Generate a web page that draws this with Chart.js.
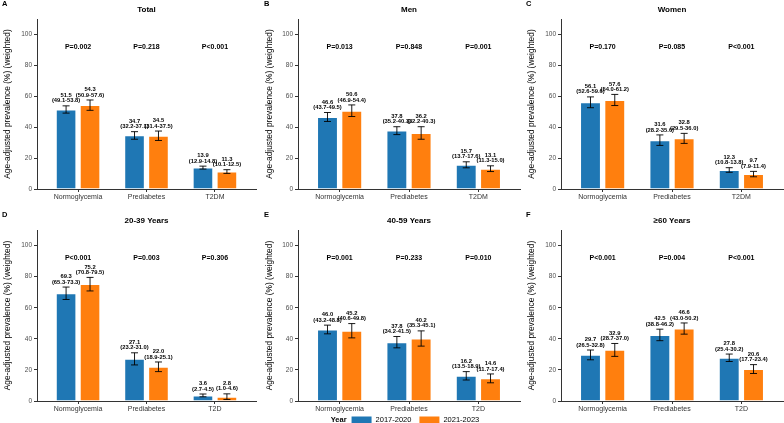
<!DOCTYPE html>
<html>
<head>
<meta charset="utf-8">
<script src="https://cdn.jsdelivr.net/npm/chart.js@4.4.0/dist/chart.umd.min.js"></script>
<style>
body { margin: 0; background: #fff; }
#wrap { position: relative; width: 784px; height: 423px; overflow: hidden; }
canvas { position: absolute; }
</style>
</head>
<body>
<div id="wrap"></div>
<script>
// 各面板的標題與類別
const panelLetters = ['A', 'B', 'C', 'D', 'E', 'F'];
const panelTitles = ['Total', 'Men', 'Women', '20-39 Years', '40-59 Years', '≥60 Years'];
const topCategories = ['Normoglycemia', 'Prediabetes', 'T2DM'];
const bottomCategories = ['Normoglycemia', 'Prediabetes', 'T2D'];
const yTicks = [0, 20, 40, 60, 80, 100];
const seriesNames = ['2017-2020', '2021-2023'];

// 2017-2020 的估計值與 95% CI
const est2017 = [[51.5, 34.7, 13.9], [46.6, 37.8, 15.7], [56.1, 31.6, 12.3], [69.3, 27.1, 3.6], [46.0, 37.8, 16.2], [29.7, 42.5, 27.8]];
const low2017 = [[49.1, 32.2, 12.9], [43.7, 35.2, 13.7], [52.6, 28.2, 10.8], [65.3, 23.2, 2.7], [43.2, 34.2, 13.5], [26.5, 38.8, 25.4]];
const high2017 = [[53.8, 37.1, 14.8], [49.5, 40.3, 17.6], [59.6, 35.0, 13.8], [73.3, 31.0, 4.5], [48.8, 41.5, 18.9], [32.8, 46.2, 30.2]];

// 2021-2023 的估計值與 95% CI
const est2021 = [[54.3, 34.5, 11.3], [50.6, 36.2, 13.1], [57.6, 32.8, 9.7], [75.2, 22.0, 2.8], [45.2, 40.2, 14.6], [32.9, 46.6, 20.6]];
const low2021 = [[50.9, 31.4, 10.1], [46.9, 32.2, 11.3], [54.0, 29.5, 7.9], [70.8, 18.9, 1.0], [40.6, 35.3, 11.7], [28.7, 43.0, 17.7]];
const high2021 = [[57.6, 37.5, 12.5], [54.4, 40.3, 15.0], [61.2, 36.0, 11.4], [79.5, 25.1, 4.6], [49.8, 45.1, 17.4], [37.0, 50.2, 23.4]];

const pValues = [
    ['P=0.002', 'P=0.218', 'P<0.001'],
    ['P=0.013', 'P=0.848', 'P=0.001'],
    ['P=0.170', 'P=0.085', 'P<0.001'],
    ['P<0.001', 'P=0.003', 'P=0.306'],
    ['P=0.001', 'P=0.233', 'P=0.010'],
    ['P<0.001', 'P=0.004', 'P<0.001'],
];

const colors = ['#1F77B4', '#FF7F0E'];
const FONT = '"Liberation Sans", Arial, Helvetica, sans-serif';

const cols = [
    { left: 0, width: 262, yw: 37, pr: 6 },
    { left: 262, width: 262, yw: 36, pr: 4 },
    { left: 524, width: 260, yw: 37, pr: 1 },
];
const rows = [
    { top: 0, height: 205, pt: 19, xh: 16, titleY: 10, letterY: 4 },
    { top: 205, height: 218, pt: 25, xh: 22, titleY: 16, letterY: 10 },
];

// 誤差線、數值標籤、P 值、標題
const annotate = {
    id: 'annotate',
    afterDatasetsDraw(chart, args, opts) {
        const ctx = chart.ctx;
        const ys = chart.scales.y, xs = chart.scales.x;
        const area = chart.chartArea;
        const p = opts.panel;
        ctx.save();
        [[low2017, high2017, est2017], [low2021, high2021, est2021]].forEach(([lo, hi, est], d) => {
            chart.getDatasetMeta(d).data.forEach((bar, i) => {
                const yl = ys.getPixelForValue(lo[p][i]);
                const yh = ys.getPixelForValue(hi[p][i]);
                ctx.strokeStyle = '#000';
                ctx.lineWidth = 0.9;
                ctx.beginPath();
                ctx.moveTo(bar.x, yl); ctx.lineTo(bar.x, yh);
                ctx.moveTo(bar.x - 3.5, yl); ctx.lineTo(bar.x + 3.5, yl);
                ctx.moveTo(bar.x - 3.5, yh); ctx.lineTo(bar.x + 3.5, yh);
                ctx.stroke();
                ctx.fillStyle = '#000';
                ctx.font = 'bold 5.8px ' + FONT;
                ctx.textAlign = 'center';
                ctx.textBaseline = 'middle';
                ctx.fillText(est[p][i].toFixed(1), bar.x, yh - 10.5);
                ctx.fillText('(' + lo[p][i].toFixed(1) + '-' + hi[p][i].toFixed(1) + ')', bar.x, yh - 5);
            });
        });
        ctx.font = 'bold 7px ' + FONT;
        ctx.textAlign = 'center';
        ctx.textBaseline = 'middle';
        pValues[p].forEach((t, i) => {
            ctx.fillText(t, xs.getPixelForValue(i + 1), ys.getPixelForValue(92));
        });
        ctx.font = 'bold 8px ' + FONT;
        ctx.fillText(panelTitles[p], (area.left + area.right) / 2, opts.titleY);
        ctx.font = 'bold 7.5px ' + FONT;
        ctx.textAlign = 'left';
        ctx.fillText(panelLetters[p], 2, opts.letterY);

        // 圖例畫在 E 面板底部，置中於整張圖
        if (p === 4) {
            const ly = 215, boxW = 20, boxH = 7;
            ctx.font = 'bold 7.5px ' + FONT;
            const yearW = ctx.measureText('Year').width;
            ctx.font = '7.5px ' + FONT;
            const textW = seriesNames.map(n => ctx.measureText(n).width);
            const total = yearW + 5 + (boxW + 4) * 2 + textW[0] + 8 + textW[1];
            let lx = 143 - total / 2;
            ctx.font = 'bold 7.5px ' + FONT;
            ctx.fillStyle = '#000';
            ctx.fillText('Year', lx, ly);
            lx += yearW + 5;
            ctx.font = '7.5px ' + FONT;
            seriesNames.forEach((name, d) => {
                ctx.fillStyle = colors[d];
                ctx.fillRect(lx, ly - boxH / 2, boxW, boxH);
                lx += boxW + 4;
                ctx.fillStyle = '#000';
                ctx.fillText(name, lx, ly);
                lx += textW[d] + 8;
            });
        }
        ctx.restore();
    }
};

const wrap = document.getElementById('wrap');

for (let p = 0; p < 6; p++) {
    const col = cols[p % 3];
    const row = rows[Math.floor(p / 3)];
    const cats = p < 3 ? topCategories : bottomCategories;

    const canvas = document.createElement('canvas');
    canvas.width = col.width;
    canvas.height = row.height;
    canvas.style.left = col.left + 'px';
    canvas.style.top = row.top + 'px';
    wrap.appendChild(canvas);

    new Chart(canvas.getContext('2d'), {
        type: 'bar',
        data: {
            datasets: [est2017, est2021].map((est, d) => ({
                label: seriesNames[d],
                data: est[p].map((v, i) => ({ x: i + 1, y: v })),
                backgroundColor: colors[d],
                borderColor: 'rgba(255,255,255,0.55)',
                borderWidth: 1,
                categoryPercentage: 0.7,
                barPercentage: 0.86,
            })),
        },
        options: {
            responsive: false,
            animation: false,
            devicePixelRatio: 1,
            layout: { padding: { top: row.pt, right: col.pr, left: 0, bottom: 0 } },
            plugins: {
                legend: { display: false },
                tooltip: { enabled: false },
                annotate: { panel: p, titleY: row.titleY, letterY: row.letterY },
            },
            scales: {
                x: {
                    type: 'linear',
                    min: 0.4,
                    max: 3.6,
                    offset: false,
                    afterBuildTicks: s => { s.ticks = [1, 2, 3].map(v => ({ value: v })); },
                    afterFit: s => { s.height = row.xh; },
                    ticks: {
                        callback: v => cats[v - 1],
                        font: { size: 7, family: FONT },
                        color: '#333',
                        padding: 1,
                        maxRotation: 0,
                        autoSkip: false,
                    },
                    grid: { offset: false, drawOnChartArea: false, drawTicks: true, tickLength: 3, color: '#333' },
                    border: { display: true, color: '#333', width: 1 },
                },
                y: {
                    min: 0,
                    max: 110,
                    afterBuildTicks: s => { s.ticks = yTicks.map(v => ({ value: v })); },
                    afterFit: s => { s.width = col.yw; },
                    ticks: { font: { size: 6.5, family: FONT }, color: '#4D4D4D', padding: 2 },
                    grid: { drawOnChartArea: false, drawTicks: true, tickLength: 3, color: '#333' },
                    border: { display: true, color: '#333', width: 1 },
                    title: {
                        display: true,
                        text: 'Age-adjusted prevalence (%) (weighted)',
                        font: { size: 8.4, family: FONT },
                        color: '#000',
                        padding: { top: 3, bottom: 0 },
                    },
                },
            },
        },
        plugins: [annotate],
    });
}
</script>
</body>
</html>
